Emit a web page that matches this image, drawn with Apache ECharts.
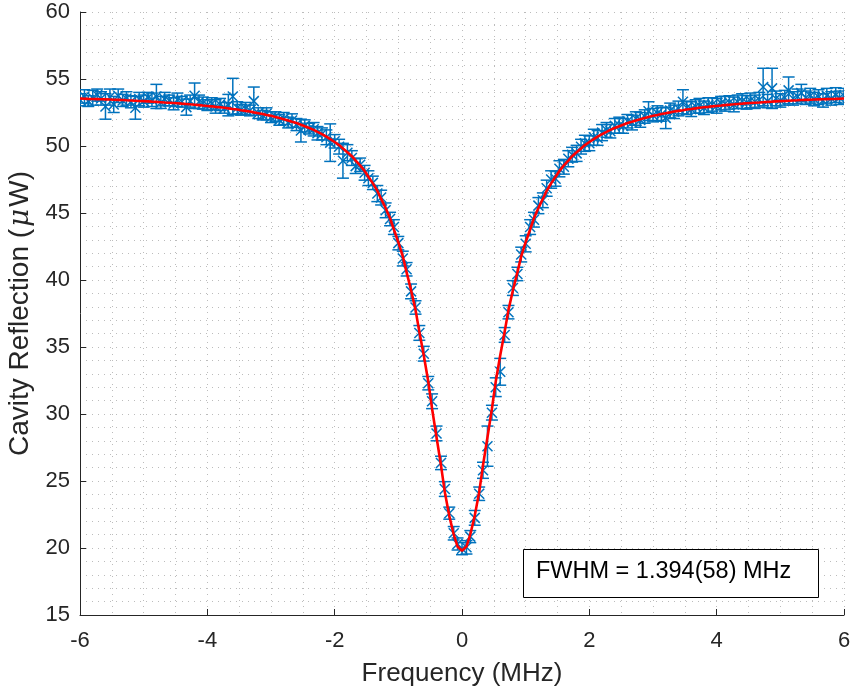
<!DOCTYPE html>
<html>
<head>
<meta charset="utf-8">
<script src="https://cdn.jsdelivr.net/npm/echarts@6/dist/echarts.min.js"></script>
<style>html,body{margin:0;padding:0;background:#fff;}#c{width:850px;height:695px;}</style>
</head>
<body>
<div id="c"></div>
<script>
// Frequency (MHz)
const freq = [
-6.00,-5.93,-5.87,-5.80,-5.73,-5.67,-5.60,-5.53,-5.47,-5.40,-5.33,-5.27,-5.20,-5.13,-5.07,
-5.00,-4.93,-4.87,-4.80,-4.73,-4.67,-4.60,-4.53,-4.47,-4.40,-4.33,-4.27,-4.20,-4.13,-4.07,
-4.00,-3.93,-3.87,-3.80,-3.73,-3.67,-3.60,-3.53,-3.47,-3.40,-3.33,-3.27,-3.20,-3.13,-3.07,
-3.00,-2.93,-2.87,-2.80,-2.73,-2.67,-2.60,-2.53,-2.47,-2.40,-2.33,-2.27,-2.20,-2.13,-2.07,
-2.00,-1.93,-1.87,-1.80,-1.73,-1.67,-1.60,-1.53,-1.47,-1.40,-1.33,-1.27,-1.20,-1.13,-1.07,
-1.00,-0.93,-0.87,-0.80,-0.73,-0.67,-0.60,-0.53,-0.47,-0.40,-0.33,-0.27,-0.20,-0.13,-0.07,
0.00,0.07,0.13,0.20,0.27,0.33,0.40,0.47,0.53,0.60,0.67,0.73,0.80,0.87,0.93,
1.00,1.07,1.13,1.20,1.27,1.33,1.40,1.47,1.53,1.60,1.67,1.73,1.80,1.87,1.93,
2.00,2.07,2.13,2.20,2.27,2.33,2.40,2.47,2.53,2.60,2.67,2.73,2.80,2.87,2.93,
3.00,3.07,3.13,3.20,3.27,3.33,3.40,3.47,3.53,3.60,3.67,3.73,3.80,3.87,3.93,
4.00,4.07,4.13,4.20,4.27,4.33,4.40,4.47,4.53,4.60,4.67,4.73,4.80,4.87,4.93,
5.00,5.07,5.13,5.20,5.27,5.33,5.40,5.47,5.53,5.60,5.67,5.73,5.80,5.87,5.93,
6.00];

// Measured cavity reflection (µW)
const refl = [
53.45,53.70,53.35,53.60,53.80,53.55,52.95,53.65,53.10,53.75,53.40,53.55,53.30,52.85,53.50,
53.35,53.60,53.45,53.70,53.25,53.50,53.40,53.15,53.45,53.30,52.90,53.35,53.75,53.30,53.20,
53.05,53.15,52.95,53.10,52.85,53.05,53.70,52.85,52.70,52.80,52.65,53.35,52.45,52.30,52.40,
52.15,52.20,51.95,52.05,51.75,51.90,51.60,51.15,51.50,51.30,51.25,50.95,50.90,50.65,50.25,
50.35,49.95,48.90,49.50,49.10,48.50,48.60,48.00,47.60,47.25,46.45,46.15,45.20,44.55,43.95,
42.75,41.60,40.80,39.15,37.95,36.05,34.50,32.30,30.95,28.55,26.35,24.40,22.60,21.10,20.30,
19.95,20.05,20.85,22.25,24.05,25.80,27.60,30.10,32.00,33.15,35.90,37.60,39.40,40.45,41.90,
42.70,43.95,44.50,45.55,45.95,46.85,47.50,47.55,48.30,48.45,49.05,49.35,49.45,49.95,50.20,
50.20,50.65,50.60,51.00,51.20,51.10,51.50,51.55,51.50,51.85,51.75,52.05,51.95,52.20,52.60,
52.30,52.45,52.35,52.10,52.65,52.55,52.80,53.30,52.85,52.75,52.95,53.00,52.85,53.05,53.10,
53.00,53.20,53.15,53.25,53.10,53.30,53.35,53.25,53.40,53.30,53.45,54.40,53.35,54.30,53.55,
53.40,53.60,54.15,53.55,53.70,53.95,53.60,53.75,53.50,53.65,53.40,53.75,53.55,53.80,53.60,
53.75];

// Error bar half-lengths (µW)
const reflErr = [
0.45,0.50,0.40,0.55,0.45,0.50,0.95,0.60,0.60,0.50,0.45,0.50,0.45,0.85,0.50,
0.45,0.40,0.50,0.90,0.45,0.50,0.40,0.45,0.50,0.40,0.60,0.45,0.95,0.50,0.45,
0.40,0.45,0.50,0.45,0.40,0.80,1.35,0.45,0.40,0.45,0.40,1.05,0.40,0.35,0.45,
0.40,0.35,0.40,0.45,0.40,0.50,0.45,0.85,0.45,0.40,0.50,0.50,0.45,0.55,1.40,
0.50,0.55,1.30,0.60,0.55,0.55,0.50,0.55,0.55,0.50,0.60,0.55,0.55,0.50,0.55,
0.50,0.55,0.50,0.55,0.50,0.55,0.55,0.50,0.55,0.55,0.50,0.55,0.45,0.50,0.45,
0.45,0.50,0.45,0.55,0.50,0.60,1.50,0.55,0.70,1.00,0.55,0.50,0.55,0.50,0.55,
0.60,0.55,0.55,0.60,0.55,0.60,0.65,0.55,0.60,0.55,0.60,0.55,0.60,0.55,0.60,
0.55,0.60,0.55,0.60,0.55,0.50,0.55,0.60,0.55,0.50,0.55,0.50,0.55,0.50,0.70,
0.50,0.55,0.50,0.80,0.55,0.50,0.55,0.90,0.50,0.55,0.50,0.55,0.50,0.55,0.50,
0.55,0.50,0.55,0.50,0.55,0.50,0.55,0.50,0.55,0.50,0.55,1.40,0.50,1.50,0.55,
0.50,0.55,1.00,0.50,0.55,0.65,0.50,0.55,0.50,0.55,0.50,0.55,0.50,0.55,0.50,
0.55];

// Lorentzian fit curve values at the same frequencies
const fitVals = [
53.54,53.53,53.52,53.51,53.50,53.49,53.48,53.47,53.45,53.44,53.43,53.41,53.40,53.38,53.36,
53.35,53.33,53.31,53.29,53.27,53.25,53.23,53.21,53.19,53.16,53.14,53.11,53.08,53.05,53.02,
52.99,52.96,52.92,52.89,52.85,52.81,52.76,52.72,52.67,52.62,52.57,52.51,52.45,52.39,52.32,
52.25,52.17,52.09,52.00,51.91,51.81,51.71,51.59,51.47,51.34,51.20,51.05,50.88,50.70,50.51,
50.30,50.07,49.82,49.54,49.24,48.91,48.55,48.14,47.70,47.21,46.66,46.05,45.37,44.61,43.77,
42.82,41.76,40.57,39.24,37.77,36.14,34.36,32.43,30.39,28.27,26.17,24.17,22.40,21.01,20.11,
19.80,20.11,21.01,22.40,24.17,26.17,28.27,30.39,32.43,34.36,36.14,37.77,39.24,40.57,41.76,
42.82,43.77,44.61,45.37,46.05,46.66,47.21,47.70,48.14,48.55,48.91,49.24,49.54,49.82,50.07,
50.30,50.51,50.70,50.88,51.05,51.20,51.34,51.47,51.59,51.71,51.81,51.91,52.00,52.09,52.17,
52.25,52.32,52.39,52.45,52.51,52.57,52.62,52.67,52.72,52.76,52.81,52.85,52.89,52.92,52.96,
52.99,53.02,53.05,53.08,53.11,53.14,53.16,53.19,53.21,53.23,53.25,53.27,53.29,53.31,53.33,
53.35,53.36,53.38,53.40,53.41,53.43,53.44,53.45,53.47,53.48,53.49,53.50,53.51,53.52,53.53,
53.54];

const xTicks = [-6, -4, -2, 0, 2, 4, 6];
const yTicks = [15, 20, 25, 30, 35, 40, 45, 50, 55, 60];
const annotation = 'FWHM = 1.394(58) MHz';

const FONT = '"Liberation Sans", Arial, Helvetica, sans-serif';
const BLUE = '#0072BD';
const AX = '#262626';

const errData = freq.map((x, i) => [x, refl[i], reflErr[i]]);
const fitData = freq.map((x, i) => [x, fitVals[i]]);

const chart = echarts.init(document.getElementById('c'), null, {renderer: 'canvas'});

const gridDot = {show: true, lineStyle: {color: '#bcbcbc', width: 1, type: [1, 5]}};

chart.setOption({
  backgroundColor: '#fff',
  animation: false,
  grid: {left: 80, right: 6, top: 12, bottom: 80, containLabel: false, outerBoundsMode: 'none'},
  xAxis: {
    type: 'value', min: xTicks[0], max: xTicks[xTicks.length - 1], interval: 2,
    name: 'Frequency (MHz)', nameLocation: 'middle', nameGap: 46,
    nameTextStyle: {fontFamily: FONT, fontSize: 26, color: AX},
    axisLine: {show: true, onZero: false, lineStyle: {color: AX, width: 1}},
    axisTick: {show: true, inside: true, length: 6, lineStyle: {color: AX}},
    axisLabel: {fontFamily: FONT, fontSize: 22, color: AX, margin: 15},
    splitLine: gridDot,
    minorTick: {show: true, splitNumber: 4, length: 0, lineStyle: {color: 'rgba(0,0,0,0)'}},
    minorSplitLine: gridDot
  },
  yAxis: {
    type: 'value', min: yTicks[0], max: yTicks[yTicks.length - 1], interval: 5,
    name: 'Cavity Reflection ({it|μ}W)', nameLocation: 'middle', nameGap: 42,
    nameTextStyle: {fontFamily: FONT, fontSize: 28, color: AX,
      rich: {it: {fontFamily: '"DejaVu Serif", serif', fontSize: 28, fontStyle: 'italic', color: AX, padding: [0, 2, 0, 2]}}},
    axisLine: {show: true, onZero: false, lineStyle: {color: AX, width: 1}},
    axisTick: {show: true, inside: true, length: 6, lineStyle: {color: AX}},
    axisLabel: {fontFamily: FONT, fontSize: 22, color: AX, margin: 10},
    splitLine: gridDot,
    minorTick: {show: true, splitNumber: 5, length: 0, lineStyle: {color: 'rgba(0,0,0,0)'}},
    minorSplitLine: gridDot
  },
  graphic: [
    {type: 'rect', left: 523, top: 549, z: 100,
     shape: {width: 295, height: 48},
     style: {fill: '#fff', stroke: '#000', lineWidth: 1}},
    {type: 'text', left: 536, top: 560, z: 101,
     style: {text: annotation, font: '23.5px ' + FONT, fill: '#000'}}
  ],
  series: [
    {
      type: 'custom', name: 'data', clip: true, z: 2,
      data: errData,
      renderItem: function (params, api) {
        const x = api.value(0), y = api.value(1), e = api.value(2);
        const p = api.coord([x, y]);
        const t = api.coord([x, y + e]);
        const b = api.coord([x, y - e]);
        const cw = 6, m = 5;
        const st = {stroke: BLUE, lineWidth: 1.5, fill: null};
        return {type: 'group', children: [
          {type: 'line', shape: {x1: t[0], y1: t[1], x2: b[0], y2: b[1]}, style: st},
          {type: 'line', shape: {x1: t[0] - cw, y1: t[1], x2: t[0] + cw, y2: t[1]}, style: st},
          {type: 'line', shape: {x1: b[0] - cw, y1: b[1], x2: b[0] + cw, y2: b[1]}, style: st},
          {type: 'line', shape: {x1: p[0] - m, y1: p[1] - m, x2: p[0] + m, y2: p[1] + m}, style: st},
          {type: 'line', shape: {x1: p[0] - m, y1: p[1] + m, x2: p[0] + m, y2: p[1] - m}, style: st}
        ]};
      }
    },
    {
      type: 'line', name: 'fit', data: fitData, showSymbol: false, z: 5,
      lineStyle: {color: '#ff0000', width: 2.6}, smooth: false
    }
  ]
});
</script>
</body>
</html>
